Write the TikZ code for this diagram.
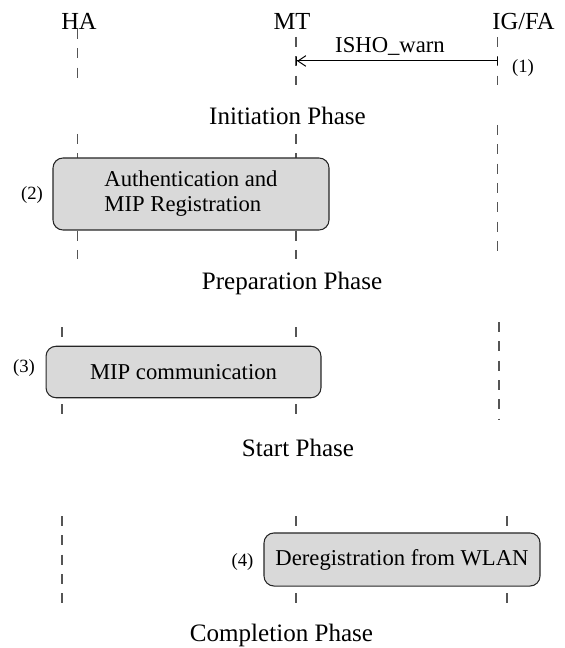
\documentclass[tikz,border=0pt]{standalone}
\usepackage{fontspec}
\setmainfont{Liberation Serif}
\usetikzlibrary{arrows.meta}

\definecolor{boxgray}{RGB}{217,217,217}
\definecolor{linegray}{RGB}{85,85,85}

\begin{document}
\begin{tikzpicture}[x=0.75pt, y=-0.75pt,
                entity/.style={font=\fontsize{18.4}{22}\selectfont, anchor=base},
                phase/.style={font=\fontsize{18.8}{22}\selectfont, anchor=base},
                num/.style={font=\fontsize{14}{16}\selectfont},
                msg label/.style={font=\fontsize{17}{20}\selectfont, anchor=base},
                phase box/.style={draw=black!85, fill=boxgray, rounded corners=7.5pt, line width=0.8pt, inner sep=0pt, font=\fontsize{17}{18.75}\selectfont},
                lifeline/.style={draw=linegray, line width=0.9pt, dash pattern=on 7.4pt off 7.1pt},
                msg/.style={line width=0.75pt, {Bar[width=6.5pt]Straight Barb[length=6pt,width=8pt]}-{Bar[width=6.5pt]}}]

                \useasboundingbox (0,0) rectangle (564,648);

                % entities
                \node[entity] at (79, 30) (ha) {HA};
                \node[entity] at (292, 30) (mt) {MT};
                \node[entity] at (523.5, 30) (ig) {IG/FA};

                % lifeline ends, one set per phase
                \coordinate (ha1) at (77.7, 29);  \coordinate (ha1e) at (77.7, 78);
                \coordinate (mt1) at (296, 37);   \coordinate (mt1e) at (296, 85);
                \coordinate (ig1) at (497.7, 37); \coordinate (ig1e) at (497.7, 85);

                \coordinate (ha2) at (77.7, 134);  \coordinate (ha2e) at (77.7, 259);
                \coordinate (mt2) at (296, 134);   \coordinate (mt2e) at (296, 259);
                \coordinate (ig2) at (497.7, 125); \coordinate (ig2e) at (497.7, 252);

                \coordinate (ha3) at (62, 327);  \coordinate (ha3e) at (62, 418);
                \coordinate (mt3) at (296, 327); \coordinate (mt3e) at (296, 418);
                \coordinate (ig3) at (499, 322); \coordinate (ig3e) at (499, 420);

                \coordinate (ha4) at (62, 516);  \coordinate (ha4e) at (62, 609);
                \coordinate (mt4) at (296, 516); \coordinate (mt4e) at (296, 609);
                \coordinate (ig4) at (507, 516); \coordinate (ig4e) at (507, 609);

                \path[lifeline] (ha1) edge (ha1e) (mt1) edge (mt1e) (ig1) edge (ig1e);
                \path[lifeline] (ha2) edge (ha2e) (mt2) edge (mt2e) (ig2) edge (ig2e);
                \path[lifeline] (ha3) edge (ha3e) (mt3) edge (mt3e) (ig3) edge (ig3e);
                \path[lifeline] (ha4) edge (ha4e) (mt4) edge (mt4e) (ig4) edge (ig4e);

                % initiation
                \coordinate (mtwarn) at (296, 61);
                \coordinate (igwarn) at (497.7, 61);
                \draw[msg] (mtwarn) -- (igwarn);
                \node[msg label] at (390, 53) (warn) {ISHO\_warn};
                \node[num] at (523, 68) (n1) {(1)};
                \node[phase] at (287.5, 125) (init) {Initiation Phase};

                % preparation
                \node[phase box, minimum width=207pt, minimum height=54pt, align=left] at (191, 194) (auth) {Authentication and\\MIP Registration};
                \node[num] at (32, 195) (n2) {(2)};
                \node[phase] at (292, 289) (prep) {Preparation Phase};

                % start
                \node[phase box, minimum width=206.2pt, minimum height=38.6pt] at (183.5, 372) (mipc) {MIP communication};
                \node[num] at (24, 368) (n3) {(3)};
                \node[phase] at (298, 456) (start) {Start Phase};

                % completion
                \node[phase box, minimum width=207pt, minimum height=39.8pt] at (402, 559.5) (dereg) {Deregistration from WLAN};
                \node[num] at (242.5, 562) (n4) {(4)};
                \node[phase] at (281.5, 641) (compl) {Completion Phase};

            \end{tikzpicture}
\end{document}
